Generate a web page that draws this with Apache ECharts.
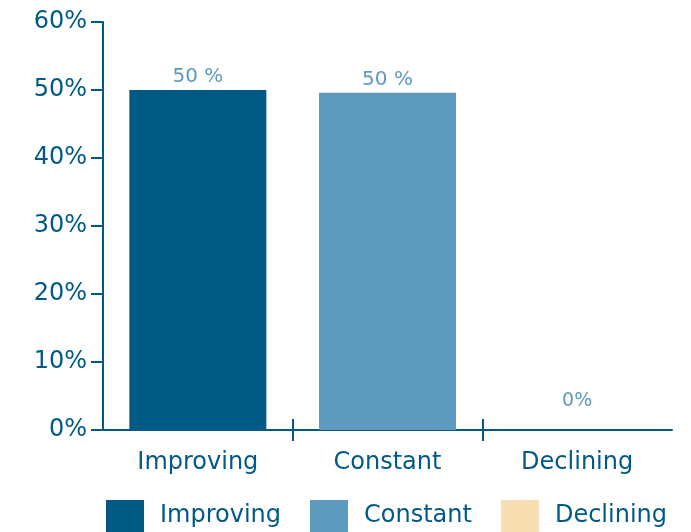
<!DOCTYPE html>
<html>
<head>
<meta charset="utf-8">
<script src="https://cdn.jsdelivr.net/npm/echarts@6/dist/echarts.min.js"></script>
<style>
  html, body { margin: 0; padding: 0; background: #ffffff; }
  #chart { width: 691px; height: 532px; }
</style>
</head>
<body>
<div id="chart"></div>
<script>
// Share of cases by trend
const categories = ['Improving', 'Constant', 'Declining'];
const improvingValues = [50, null, null];
const constantValues = [null, 49.6, null];
const decliningValues = [null, null, 0];
const yTickValues = [0, 10, 20, 30, 40, 50, 60];

const DARK = '#005A85';
const MID = '#5E9ABD';
const LIGHT = '#F6DEB1';
const FONT = '"DejaVu Sans", Verdana, sans-serif';

const chart = echarts.init(document.getElementById('chart'), null, { renderer: 'canvas' });

function barSeries(name, data, color, labelExtra) {
  return {
    name: name,
    type: 'bar',
    stack: 'share',
    data: data,
    barWidth: 137,
    itemStyle: { color: color },
    label: Object.assign({
      show: true,
      position: 'top',
      distance: 3,
      color: MID,
      fontFamily: FONT,
      fontSize: 20,
      formatter: p => Math.round(p.value) + ' %'
    }, labelExtra || {})
  };
}

// tick marks between categories (drawn on hidden value axes spanning the category range)
function tickAxis(inside) {
  return {
    type: 'value',
    position: 'bottom',
    min: 0,
    max: categories.length,
    interval: 1,
    axisLine: { show: false },
    axisLabel: { show: false },
    splitLine: { show: false },
    axisTick: {
      show: true,
      inside: inside,
      length: 11,
      customValues: [1, 2],
      lineStyle: { color: DARK, width: 2 }
    }
  };
}

chart.setOption({
  animation: false,
  textStyle: { fontFamily: FONT },
  grid: { left: 103, right: 19, top: 22, bottom: 102, containLabel: false },
  legend: {
    data: categories,
    left: 106,
    top: 500,
    padding: 0,
    icon: 'rect',
    itemWidth: 38,
    itemHeight: 32,
    itemGap: 29,
    textStyle: {
      color: DARK,
      fontFamily: FONT,
      fontSize: 24,
      padding: [0, 0, 0, 11]
    }
  },
  xAxis: [
    {
      type: 'category',
      data: categories,
      axisLine: { show: true, lineStyle: { color: DARK, width: 2 } },
      axisTick: { show: false },
      axisLabel: { color: DARK, fontFamily: FONT, fontSize: 24, margin: 21 }
    },
    tickAxis(true),
    tickAxis(false)
  ],
  yAxis: {
    type: 'value',
    min: yTickValues[0],
    max: yTickValues[yTickValues.length - 1],
    interval: yTickValues[1] - yTickValues[0],
    axisLine: { show: true, lineStyle: { color: DARK, width: 2 } },
    axisTick: { show: true, length: 12, lineStyle: { color: DARK, width: 2 } },
    splitLine: { show: false },
    axisLabel: { color: DARK, fontFamily: FONT, fontSize: 24, margin: 16, formatter: '{value}%' }
  },
  series: [
    barSeries('Improving', improvingValues, DARK),
    barSeries('Constant', constantValues, MID),
    barSeries('Declining', decliningValues, LIGHT, {
      distance: 19,
      fontSize: 19,
      formatter: p => Math.round(p.value) + '%'
    })
  ]
});
</script>
</body>
</html>
